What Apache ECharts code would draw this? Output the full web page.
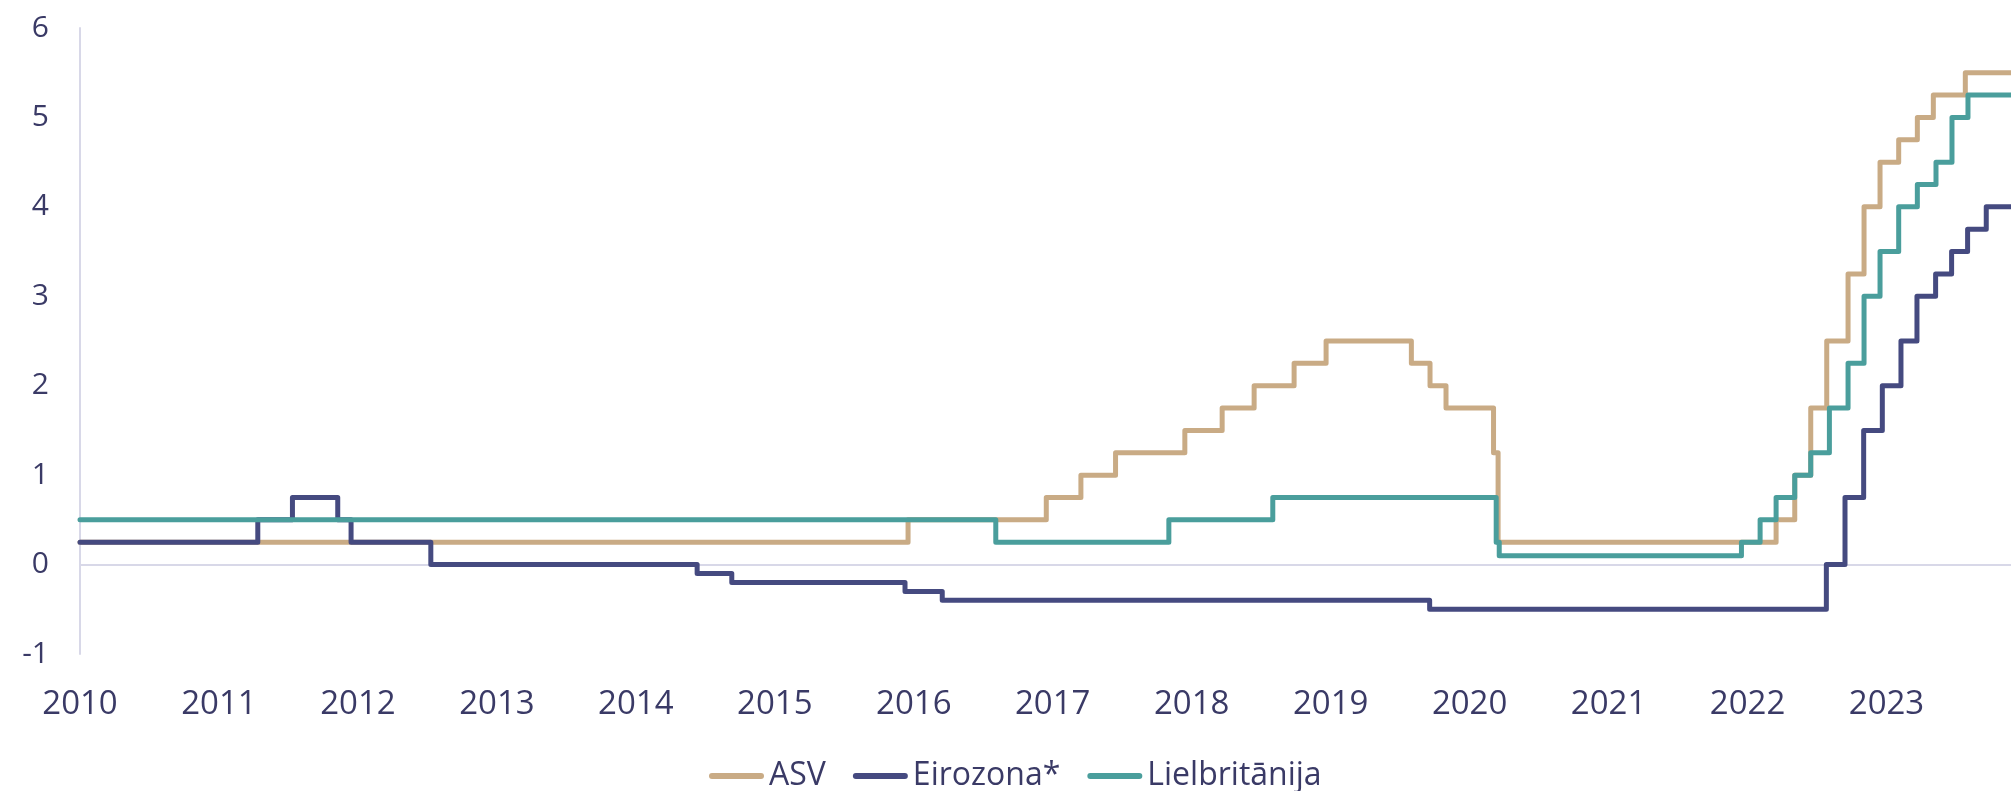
<!DOCTYPE html>
<html>
<head>
<meta charset="utf-8">
<script src="https://cdn.jsdelivr.net/npm/echarts@6/dist/echarts.min.js"></script>
<style>
  html, body { margin: 0; padding: 0; background: #fff; }
  #chart { width: 2011px; height: 791px; }
</style>
</head>
<body>
<div id="chart"></div>
<script>
// policy rate change dates (value holds until the next date)
const seriesNames = ['ASV', 'Eirozona*', 'Lielbritānija'];
const END_DATE = '2023-11-24';

const asvDates = ['2010-01-01','2015-12-17','2016-12-15','2017-03-16','2017-06-15','2017-12-14',
  '2018-03-22','2018-06-14','2018-09-27','2018-12-20','2019-08-01','2019-09-19','2019-10-31',
  '2020-03-04','2020-03-16','2022-03-17','2022-05-05','2022-06-16','2022-07-28','2022-09-22',
  '2022-11-03','2022-12-15','2023-02-02','2023-03-23','2023-05-04','2023-07-27'];
const asvRates = [0.25,0.5,0.75,1.0,1.25,1.5,1.75,2.0,2.25,2.5,2.25,2.0,1.75,1.25,0.25,
  0.5,1.0,1.75,2.5,3.25,4.0,4.5,4.75,5.0,5.25,5.5];

const euroDates = ['2010-01-01','2011-04-13','2011-07-13','2011-11-09','2011-12-14','2012-07-11',
  '2014-06-11','2014-09-10','2015-12-09','2016-03-16','2019-09-18','2022-07-27','2022-09-14',
  '2022-11-02','2022-12-21','2023-02-08','2023-03-22','2023-05-10','2023-06-21','2023-08-02',
  '2023-09-20'];
const euroRates = [0.25,0.5,0.75,0.5,0.25,0,-0.1,-0.2,-0.3,-0.4,-0.5,0,0.75,1.5,2.0,2.5,3.0,
  3.25,3.5,3.75,4.0];

const ukDates = ['2010-01-01','2016-08-04','2017-11-02','2018-08-02','2020-03-11','2020-03-19',
  '2021-12-16','2022-02-03','2022-03-17','2022-05-05','2022-06-16','2022-08-04','2022-09-22',
  '2022-11-03','2022-12-15','2023-02-02','2023-03-23','2023-05-11','2023-06-22','2023-08-03'];
const ukRates = [0.5,0.25,0.5,0.75,0.25,0.1,0.25,0.5,0.75,1.0,1.25,1.75,2.25,3.0,3.5,4.0,4.25,
  4.5,5.0,5.25];

const yTicks = [-1, 6];   // min / max of the value axis
const colors = ['#C9AB85', '#454A80', '#4A9E9C'];
const textColor = '#3A3A66';
const gridColor = '#D8D8E8';

// date string -> decimal year
function yr(d) {
  const p = d.split('-').map(Number);
  const start = Date.UTC(p[0], 0, 1), end = Date.UTC(p[0] + 1, 0, 1);
  return p[0] + (Date.UTC(p[0], p[1] - 1, p[2]) - start) / (end - start);
}
function toSteps(dates, rates) {
  const pts = dates.map((d, i) => [yr(d), rates[i]]);
  pts.push([yr(END_DATE), rates[rates.length - 1]]);
  return pts;
}

const chart = echarts.init(document.getElementById('chart'));
const allData = [toSteps(asvDates, asvRates), toSteps(euroDates, euroRates), toSteps(ukDates, ukRates)];

chart.setOption({
  animation: false,
  textStyle: { fontFamily: '"Open Sans", sans-serif' },
  grid: { left: 80, right: 0, top: 28, bottom: 137, containLabel: false },
  legend: {
    data: seriesNames,
    left: 704,
    top: 755,
    itemWidth: 55,
    itemHeight: 6,
    itemGap: 27,
    icon: 'path://M3 0H52A3 3 0 0 1 52 6H3A3 3 0 0 1 3 0Z',
    itemStyle: { borderWidth: 0 },
    textStyle: { fontSize: 32, color: textColor, fontFamily: '"Open Sans", sans-serif' }
  },
  xAxis: {
    type: 'value',
    min: 2010,
    max: yr(END_DATE),
    interval: 1,
    axisLine: { show: false },
    axisTick: { show: false },
    splitLine: { show: false },
    axisLabel: {
      fontSize: 33,
      color: textColor,
      margin: 34,
      showMaxLabel: false,
      formatter: v => String(Math.round(v))
    }
  },
  yAxis: {
    type: 'value',
    min: yTicks[0],
    max: yTicks[1],
    interval: 1,
    axisLine: { show: true, lineStyle: { color: gridColor, width: 2 } },
    axisTick: { show: false },
    splitLine: {
      show: true,
      lineStyle: {
        // only the zero line is drawn
        color: ['rgba(0,0,0,0)', gridColor, 'rgba(0,0,0,0)', 'rgba(0,0,0,0)',
                'rgba(0,0,0,0)', 'rgba(0,0,0,0)', 'rgba(0,0,0,0)', 'rgba(0,0,0,0)'],
        width: 2
      }
    },
    axisLabel: { fontSize: 30, color: textColor, margin: 31 }
  },
  series: seriesNames.map((name, i) => ({
    name: name,
    type: 'line',
    step: 'end',
    symbol: 'none',
    color: colors[i],
    lineStyle: { width: 5, color: colors[i], cap: 'round', join: 'round' },
    data: allData[i]
  }))
});
</script>
</body>
</html>
